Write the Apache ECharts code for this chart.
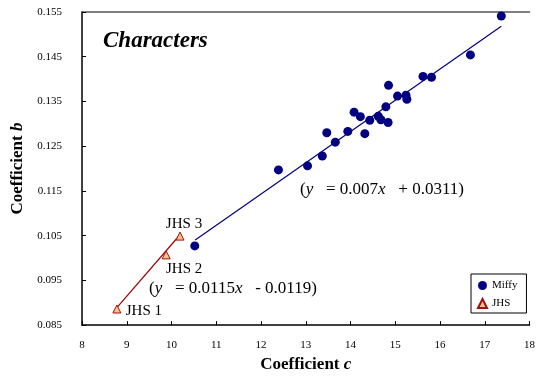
<!DOCTYPE html>
<html lang="en">
<head>
    <meta charset="UTF-8">
    <title>Characters</title>
    <script src="https://cdn.jsdelivr.net/npm/echarts@6/dist/echarts.min.js"></script>
    <style>
        html, body { margin: 0; padding: 0; background: #fff; }
        #chart { width: 538px; height: 378px; }
    </style>
</head>
<body>
<div id="chart"></div>
<script type="text/javascript">
    // coefficient c / coefficient b for each character
    var miffyC = [10.52, 12.39, 13.04, 13.37, 13.47, 13.66, 13.94, 14.08, 14.22, 14.32, 14.43, 14.62,
                  14.68, 14.79, 14.84, 14.85, 15.05, 15.24, 15.26, 15.62, 15.81, 16.68, 17.37];
    var miffyB = [0.1027, 0.1197, 0.1206, 0.1228, 0.1280, 0.1259, 0.1283, 0.1326, 0.1316, 0.1278, 0.1308, 0.1317,
                  0.1309, 0.1338, 0.1303, 0.1386, 0.1362, 0.1364, 0.1355, 0.1406, 0.1404, 0.1454, 0.1541];

    var jhsNames = ['JHS 1', 'JHS 2', 'JHS 3'];
    var jhsC = [8.78, 9.88, 10.19];
    var jhsB = [0.0886, 0.1007, 0.1049];

    // fitted lines (end points)
    var miffyFitC = [10.53, 17.37];
    var miffyFitB = [0.1040, 0.1518];
    var jhsFitC = [8.78, 10.19];
    var jhsFitB = [0.0889, 0.1052];

    var serif = "'Liberation Serif', 'Times New Roman', serif";

    function pairs(xs, ys) {
        return xs.map(function (x, i) { return [x, ys[i]]; });
    }

    var labelOffsets = [[27, 2], [18, 14], [4, -12]];
    var jhsData = jhsC.map(function (c, i) {
        return {
            name: jhsNames[i],
            value: [c, jhsB[i]],
            label: { offset: labelOffsets[i] }
        };
    });

    var myChart = echarts.init(document.getElementById('chart'));

    myChart.setOption({
        animation: false,
        backgroundColor: '#fff',
        grid: { left: 82, right: 0, top: 12, bottom: 51 },
        legend: {
            data: ['Miffy', 'JHS'],
            orient: 'vertical',
            left: 471,
            top: 274,
            padding: [6, 9, 4, 6],
            itemGap: 7,
            itemWidth: 9,
            itemHeight: 9,
            backgroundColor: '#fff',
            borderColor: '#000',
            borderWidth: 1,
            borderRadius: 0,
            textStyle: { fontFamily: serif, fontSize: 11, color: '#000' }
        },
        xAxis: [{
            type: 'value',
            min: 8,
            max: 18,
            interval: 1,
            name: 'Coefficient {i|c}',
            nameLocation: 'middle',
            nameGap: 23,
            nameTextStyle: {
                fontFamily: serif, fontSize: 17, fontWeight: 'bold', color: '#000',
                rich: { i: { fontFamily: serif, fontSize: 17, fontWeight: 'bold', fontStyle: 'italic', color: '#000' } }
            },
            axisLine: { lineStyle: { color: '#000', width: 1.5 } },
            axisTick: { inside: true, length: 4, lineStyle: { color: '#000' } },
            axisLabel: { fontFamily: serif, fontSize: 11, color: '#000', margin: 15 },
            splitLine: { show: false }
        }, {
            type: 'value',
            position: 'top',
            min: 8,
            max: 18,
            axisLine: { show: true, lineStyle: { color: '#555', width: 1.5 } },
            axisTick: { show: false },
            axisLabel: { show: false },
            splitLine: { show: false }
        }],
        yAxis: {
            type: 'value',
            min: 0.085,
            max: 0.155,
            interval: 0.01,
            name: 'Coefficient {i|b}',
            nameLocation: 'middle',
            nameGap: 48,
            nameTextStyle: {
                fontFamily: serif, fontSize: 17, fontWeight: 'bold', color: '#000',
                rich: { i: { fontFamily: serif, fontSize: 17, fontWeight: 'bold', fontStyle: 'italic', color: '#000' } }
            },
            axisLine: { show: true, lineStyle: { color: '#000', width: 1.5 } },
            axisTick: { show: true, inside: true, length: 4, lineStyle: { color: '#000' } },
            axisLabel: {
                fontFamily: serif, fontSize: 11, color: '#000', margin: 20,
                formatter: function (v) { return v.toFixed(3); }
            },
            splitLine: { show: false }
        },
        graphic: [{
            type: 'text',
            x: 103,
            y: 41,
            style: {
                text: 'Characters',
                font: 'italic bold 23px ' + serif,
                fill: '#000',
                verticalAlign: 'middle'
            }
        }, {
            type: 'text',
            x: 300,
            y: 190,
            style: {
                text: '({i|y}   = 0.007{i|x}   + 0.0311)',
                font: '17px ' + serif,
                fill: '#000',
                verticalAlign: 'middle',
                rich: { i: { font: 'italic 17px ' + serif, fill: '#000' } }
            }
        }, {
            type: 'text',
            x: 149,
            y: 289,
            style: {
                text: '({i|y}   = 0.0115{i|x}   - 0.0119)',
                font: '17px ' + serif,
                fill: '#000',
                verticalAlign: 'middle',
                rich: { i: { font: 'italic 17px ' + serif, fill: '#000' } }
            }
        }],
        series: [{
            name: 'Miffy fit',
            type: 'line',
            data: pairs(miffyFitC, miffyFitB),
            symbol: 'none',
            lineStyle: { color: '#000080', width: 1.2 },
            z: 1
        }, {
            name: 'JHS fit',
            type: 'line',
            data: pairs(jhsFitC, jhsFitB),
            symbol: 'none',
            lineStyle: { color: '#990000', width: 1.2 },
            z: 1
        }, {
            name: 'Miffy',
            type: 'scatter',
            data: pairs(miffyC, miffyB),
            symbol: 'circle',
            symbolSize: 9,
            itemStyle: { color: '#000080', opacity: 1 },
            z: 3
        }, {
            name: 'JHS',
            type: 'scatter',
            data: jhsData,
            symbol: 'triangle',
            symbolSize: 8,
            itemStyle: { color: '#FFC08A', borderColor: '#A01010', borderWidth: 1, opacity: 1 },
            label: {
                show: true,
                position: 'inside',
                formatter: '{b}',
                fontFamily: serif,
                fontSize: 15,
                color: '#000',
                align: 'center',
                verticalAlign: 'middle'
            },
            z: 4
        }]
    });
</script>
</body>
</html>
